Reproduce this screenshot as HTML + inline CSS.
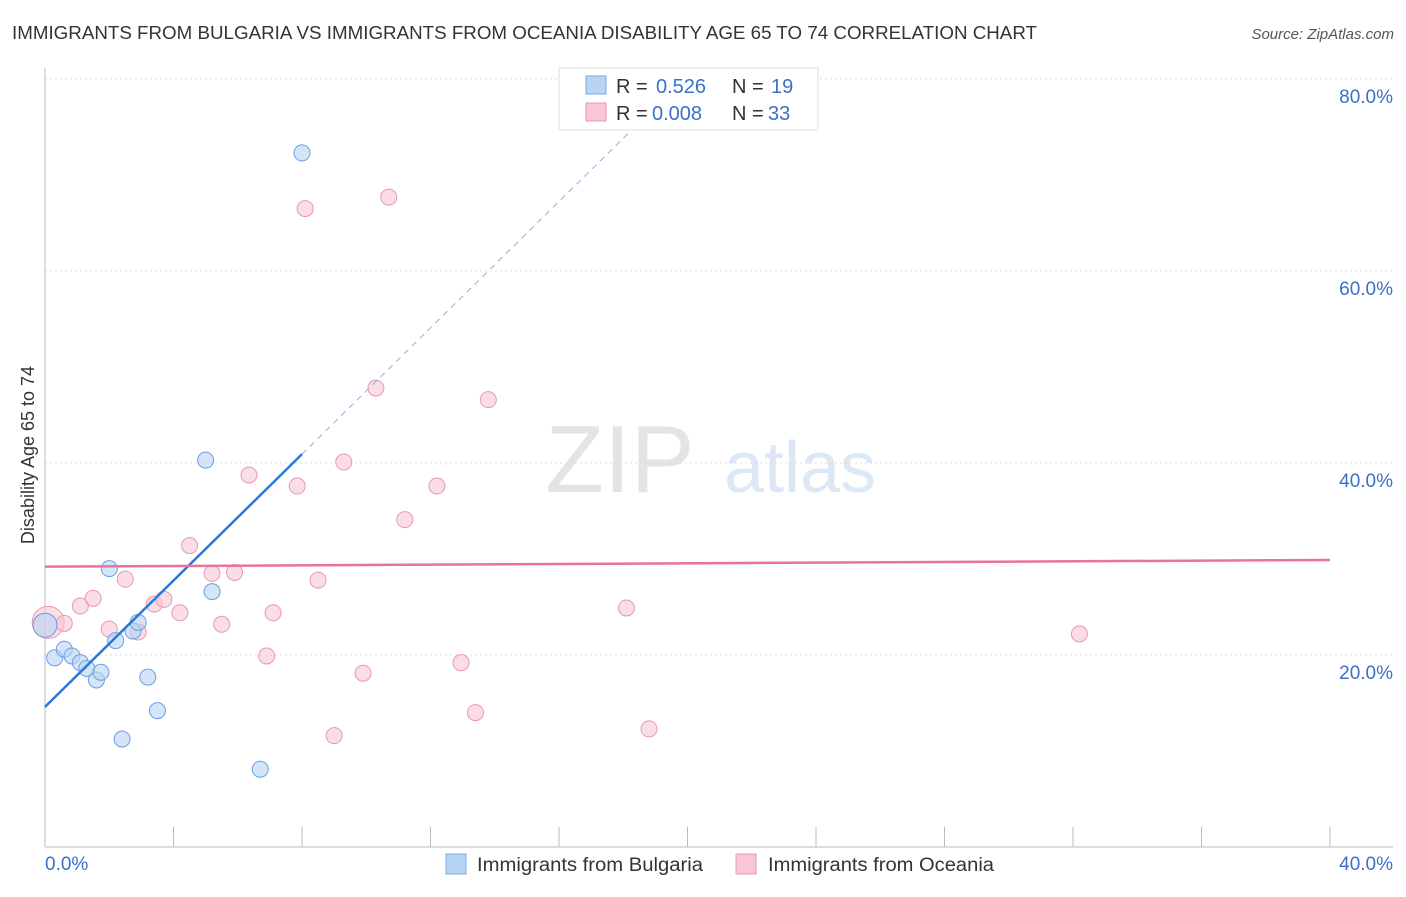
<!DOCTYPE html>
<html><head><meta charset="utf-8"><style>
body{margin:0;background:#fff;font-family:"Liberation Sans",sans-serif}
svg text{font-family:"Liberation Sans",sans-serif}
</style></head><body>
<svg id="c" width="1406" height="892">
<text x="12" y="39" font-size="18" fill="#333" textLength="1025" lengthAdjust="spacingAndGlyphs">IMMIGRANTS FROM BULGARIA VS IMMIGRANTS FROM OCEANIA DISABILITY AGE 65 TO 74 CORRELATION CHART</text>
<text x="1394" y="39" font-size="15" fill="#555" text-anchor="end" font-style="italic">Source: ZipAtlas.com</text>
<text x="620" y="492" font-size="96" fill="#e4e4e4" font-family="Liberation Serif" text-anchor="middle">ZIP</text>
<text x="800" y="492" font-size="72" fill="#dce8f6" text-anchor="middle">atlas</text>
<text transform="translate(34,455) rotate(-90)" font-size="18" fill="#333" text-anchor="middle">Disability Age 65 to 74</text>
<g id="grid"></g><g id="marks"></g>
<g>
<rect x="559" y="68" width="259" height="62" fill="#fff" stroke="#ddd"/>
<rect x="586" y="76" width="20" height="18" fill="#b8d4f5" stroke="#7aa8e0"/>
<rect x="586" y="103" width="20" height="18" fill="#f9c6d6" stroke="#e898b2"/>
<text x="616" y="93" font-size="20" fill="#333">R = </text>
<text x="656" y="93" font-size="20" fill="#3a70c8">0.526</text>
<text x="732" y="93" font-size="20" fill="#333">N = </text>
<text x="771" y="93" font-size="20" fill="#3a70c8">19</text>
<text x="616" y="120" font-size="20" fill="#333">R = </text>
<text x="652" y="120" font-size="20" fill="#3a70c8">0.008</text>
<text x="732" y="120" font-size="20" fill="#333">N = </text>
<text x="768" y="120" font-size="20" fill="#3a70c8">33</text>
</g>
<g>
<rect x="446" y="854" width="20" height="20" fill="#b8d4f5" stroke="#7aa8e0"/>
<text x="477" y="871" font-size="19" fill="#333" textLength="226" lengthAdjust="spacingAndGlyphs">Immigrants from Bulgaria</text>
<rect x="736" y="854" width="20" height="20" fill="#f9c6d6" stroke="#e898b2"/>
<text x="768" y="871" font-size="19" fill="#333" textLength="226" lengthAdjust="spacingAndGlyphs">Immigrants from Oceania</text>
</g>
<text x="45" y="870" font-size="19" fill="#3a70c8">0.0%</text>
<text x="1393" y="870" font-size="19" fill="#3a70c8" text-anchor="end">40.0%</text>
</svg>
<script>
const yTicks=[20,40,60,80];
const xTicks=[0,4,8,12,16,20,24,28,32,36,40];
const bulgariaX=[0,0.3,0.6,0.84,1.1,1.3,1.6,1.74,2.0,2.2,2.4,2.74,2.9,3.2,3.5,5.0,5.2,6.7,8.0];
const bulgariaY=[23.1,19.7,20.6,19.9,19.2,18.6,17.4,18.2,29.0,21.5,11.25,22.5,23.4,17.7,14.2,40.3,26.6,8.1,72.3];
const oceaniaX=[0.1,0.6,1.1,1.5,2.0,2.5,2.9,3.4,3.7,4.2,4.5,5.2,5.5,5.9,6.35,6.9,7.1,7.85,8.1,8.5,9.0,9.3,9.9,10.3,10.7,11.2,12.2,12.95,13.4,13.8,18.1,18.8,32.2];
const oceaniaY=[23.4,23.3,25.1,25.9,22.7,27.9,22.4,25.3,25.8,24.4,31.4,28.5,23.2,28.6,38.75,19.9,24.4,37.6,66.5,27.8,11.6,40.1,18.1,47.8,67.7,34.1,37.6,19.2,14.0,46.6,24.9,12.3,22.2];
const blueTrend=[14.6,3.29];
const pinkTrend=[29.2,29.9];
const X=v=>45+v*32.125, Y=v=>847-v*9.6;
const NS='http://www.w3.org/2000/svg';
function mk(p,t,a){const e=document.createElementNS(NS,t);for(const k in a)e.setAttribute(k,a[k]);p.appendChild(e);return e;}
const g=document.getElementById('grid'), m=document.getElementById('marks');
yTicks.forEach(t=>{const l=mk(g,'line',{x1:45,x2:1393,y1:Y(t),y2:Y(t),stroke:'#ddd','stroke-dasharray':'2,3'});


const tx=mk(g,'text',{x:1393,y:Y(t)+24,'font-size':19,fill:'#3a70c8','text-anchor':'end'});tx.textContent=t.toFixed(1)+'%';

});
mk(g,'line',{x1:45,x2:45,y1:68,y2:847,stroke:'#bbb'});
mk(g,'line',{x1:45,x2:1393,y1:847,y2:847,stroke:'#bbb'});
xTicks.forEach(t=>{const l=mk(g,'line',{x1:X(t),x2:X(t),y1:827,y2:847,stroke:'#bbb'});

});
oceaniaX.forEach((v,i)=>{const c=mk(m,'circle',{cx:X(v),cy:Y(oceaniaY[i]),r:i==0?16:8,fill:'#f9c6d6','fill-opacity':0.6,stroke:'#e898b2'});

});
bulgariaX.forEach((v,i)=>{const c=mk(m,'circle',{cx:X(v),cy:Y(bulgariaY[i]),r:i==0?12:8,fill:'#b8d4f5','fill-opacity':0.6,stroke:'#6b9fe0'});

});
const by=x=>blueTrend[0]+blueTrend[1]*x;
let l1=mk(m,'line',{x1:X(0),y1:Y(by(0)),x2:X(8),y2:Y(by(8)),stroke:'#2a78d8','stroke-width':2.5});


let l2=mk(m,'line',{x1:X(8),y1:Y(by(8)),x2:X(18.4),y2:Y(by(18.4)),stroke:'#8ab4e8','stroke-width':1,'stroke-dasharray':'6,5'});


let l3=mk(m,'line',{x1:X(0),y1:Y(pinkTrend[0]),x2:X(40),y2:Y(pinkTrend[1]),stroke:'#e8749c','stroke-width':2.5});


</script>
</body></html>
